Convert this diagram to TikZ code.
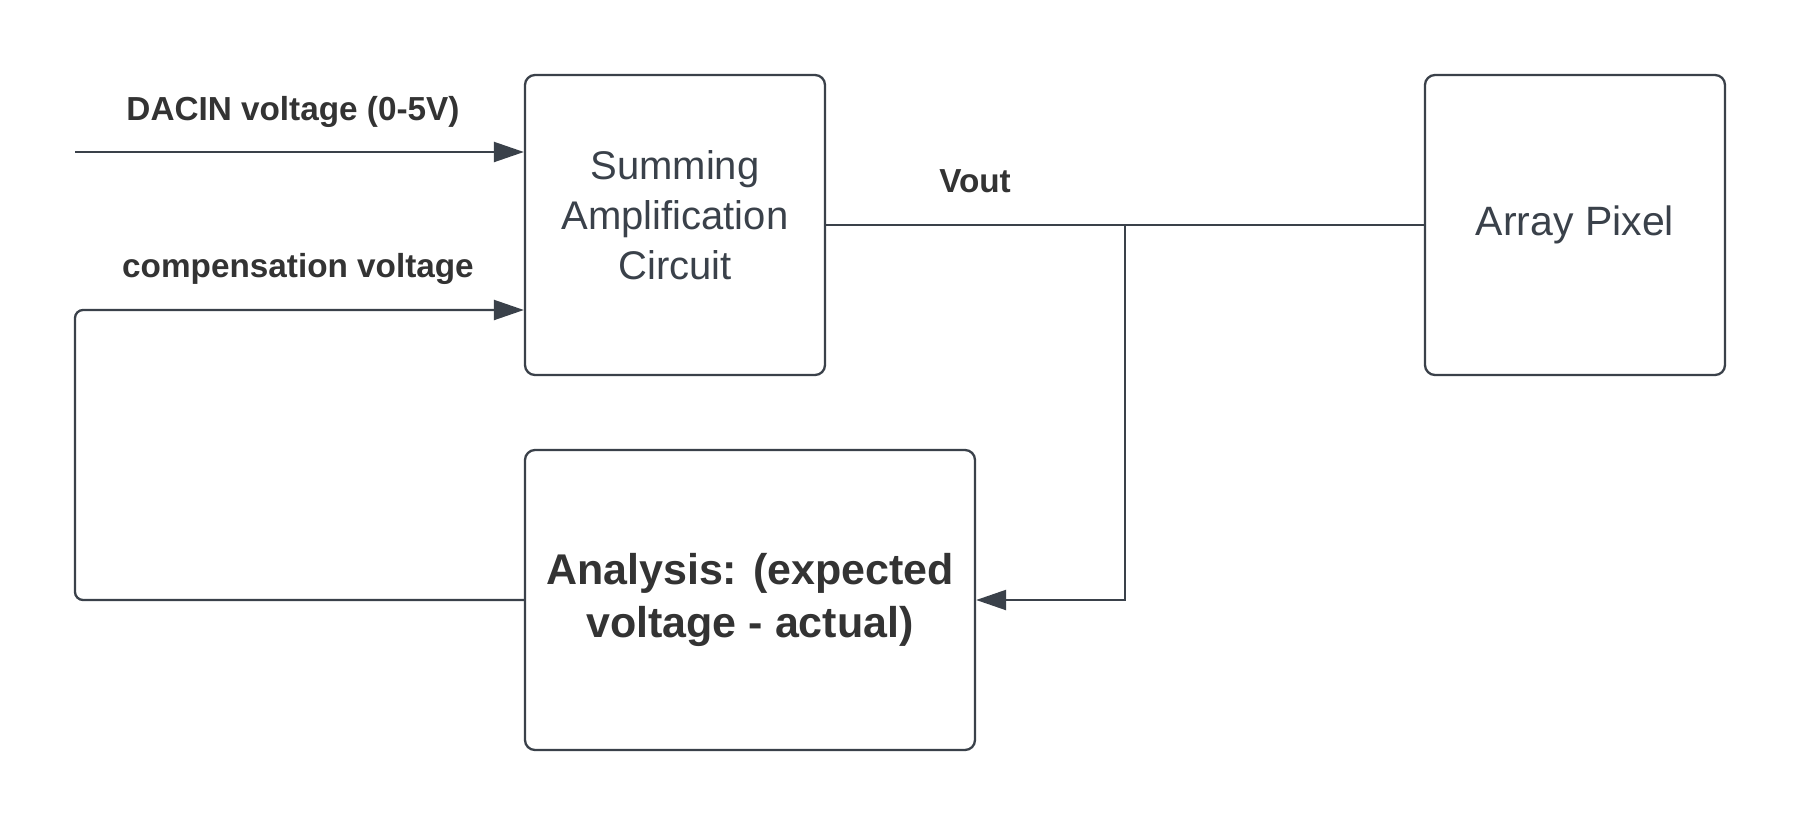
\documentclass[tikz,border=0pt]{standalone}
\usepackage{fontspec}
\setmainfont{Liberation Sans}
\usetikzlibrary{arrows.meta}
\definecolor{ln}{HTML}{3A414A}
\definecolor{tx}{HTML}{333333}
\tikzset{
  blk/.style={draw=ln, line width=2.3pt, rounded corners=10pt, minimum width=300pt, minimum height=300pt, inner sep=0pt, align=center, text=ln},
  lbl/.style={font=\fontsize{33.3}{40}\selectfont\bfseries, text=tx, inner sep=0pt},
  wire/.style={draw=ln, line width=2.3pt},
  arr/.style={wire, -{Triangle[length=30pt,width=20pt]}}
}
\begin{document}
\begin{tikzpicture}[x=1pt,y=-1pt]
\useasboundingbox (0,0) rectangle (1800,825);
\node[blk] (sum) at (675,225) {};
\node[align=center, text=ln, inner sep=0pt, font=\fontsize{40}{50}\selectfont] (sumtxt) at ([yshift=10pt]sum.center) {Summing\\Amplification\\Circuit};
\node[blk, font=\fontsize{41}{50}\selectfont] (pix) at (1575,225) {Array Pixel};
\node[blk, minimum width=450pt, font=\fontsize{43}{53}\selectfont\bfseries, text=tx] (ana) at (750,600) {Analysis: (expected\\voltage - actual)};
\node[lbl] (ldac) at (293,112) {DACIN voltage (0-5V)};
\node[lbl] (lcomp) at (298,269) {compensation voltage};
\node[lbl] (lvout) at (975,181) {Vout};
\coordinate (dacS) at (75,152);
\coordinate (fb) at (75,310);
\coordinate (j) at (1125,225);
\draw[arr] (dacS) -- (sum.west |- dacS);
\draw[wire] (sum.east) -- (pix.west);
\draw[arr] (j) |- (ana.east);
\draw[arr, rounded corners=8pt] (ana.west) -| (fb) -- (sum.west |- fb);
\end{tikzpicture}
\end{document}
